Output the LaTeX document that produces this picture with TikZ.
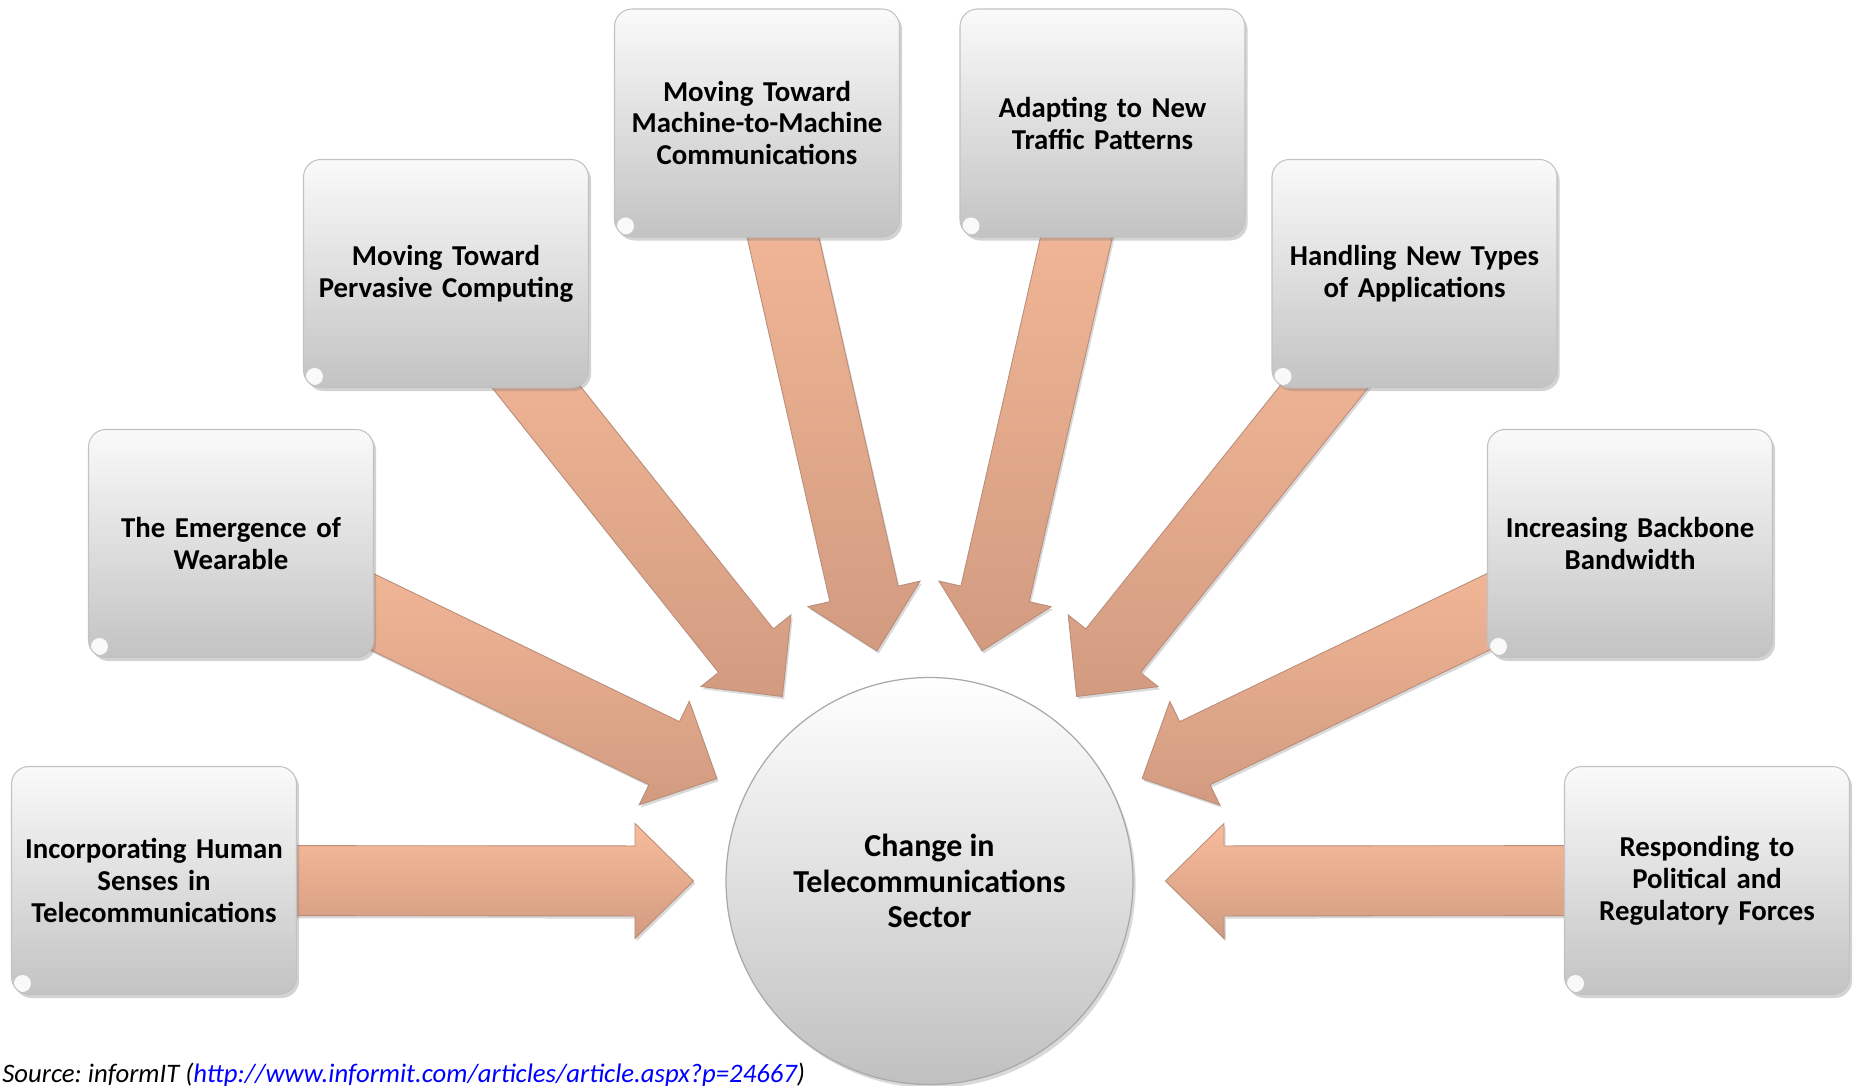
\documentclass[tikz,border=0pt]{standalone}
\usepackage{fontspec}
\setmainfont{Carlito}
\usetikzlibrary{positioning, calc, shadows, backgrounds}
\frenchspacing
\definecolor{boxtop}{HTML}{FAFAFA}
\definecolor{boxbot}{HTML}{C3C3C3}
\definecolor{boxline}{HTML}{C2C2C2}
\definecolor{hubbot}{HTML}{C0C0C0}
\definecolor{hubline}{HTML}{A9A9A9}
\definecolor{arrtop}{HTML}{F8BC9B}
\definecolor{arrbot}{HTML}{D29B80}
\definecolor{arrline}{HTML}{B88D7A}
\definecolor{urlblue}{HTML}{0000FF}

\begin{document}
\begin{tikzpicture}[
    topic/.style={draw=boxline, line width=0.6pt, rounded corners=10pt,
                  top color=boxtop, bottom color=boxbot,
                  minimum width=5.7cm, minimum height=4.56cm, text width=5.3cm, align=center,
                  font=\fontsize{16.4}{18.2}\selectfont\bfseries,
                  drop shadow={opacity=0.35, shadow xshift=1.5pt, shadow yshift=-2pt},
                  path picture={\fill[white, opacity=0.9]
                      ([shift={(0.22,0.22)}]path picture bounding box.south west) circle (0.17);}},
    hub/.style={circle, draw=hubline, line width=0.7pt, top color=white, bottom color=hubbot,
                minimum size=8.14cm, align=center,
                font=\fontsize{18.2}{20}\selectfont\bfseries,
                drop shadow={opacity=0.3, shadow xshift=1.5pt, shadow yshift=-2pt}},
    fatarrow/.style={draw=arrline, line width=0.5pt, top color=arrtop, bottom color=arrbot,
                     drop shadow={opacity=0.3, shadow xshift=1pt, shadow yshift=-1.5pt}},
]
\useasboundingbox (0,0) rectangle (37.12,21.7);

% centre
\node[hub] (hub) at (18.59,4.08) {Change in\\Telecommunications\\Sector};

% the eight drivers, left to right
\node[topic] (inc)   at (3.08,4.09)   {Incorporating Human\\Senses in\\Telecommunications};
\node[topic] (wear)  at (4.62,10.83)  {The Emergence of\\Wearable};
\node[topic] (perv)  at (8.92,16.23)  {Moving Toward\\Pervasive Computing};
\node[topic] (m2m)   at (15.14,19.24) {Moving Toward\\Machine-to-Machine\\Communications};
\node[topic] (traf)  at (22.05,19.24) {Adapting to New\\Traffic Patterns};
\node[topic] (apps)  at (28.29,16.23) {Handling New Types\\of Applications};
\node[topic] (bbone) at (32.60,10.83) {Increasing Backbone\\Bandwidth};
\node[topic] (reg)   at (34.14,4.09)  {Responding to\\Political and\\Regulatory Forces};

% arrow tips sit on a ring round the hub
\foreach \i in {1,...,8}
  \coordinate (tip\i) at ($(hub.center)+({180-(\i-1)*180/7}:4.72)$);

% block arrows, behind the boxes
\begin{scope}[on background layer]
\foreach \from [count=\i] in {inc, wear, perv, m2m, traf, apps, bbone, reg} {
  \coordinate (hb) at ($(tip\i)!1.17cm!(\from.center)$);
  \draw[fatarrow] (tip\i)
      -- ($(hb)!1.15cm!90:(tip\i)$) -- ($(hb)!0.70cm!90:(tip\i)$)
      -- ($(\from.center)!0.70cm!90:(tip\i)$) -- ($(\from.center)!0.70cm!-90:(tip\i)$)
      -- ($(hb)!0.70cm!-90:(tip\i)$) -- ($(hb)!1.15cm!-90:(tip\i)$) -- cycle;
}
\end{scope}

% source line
\node[anchor=base west, inner sep=0pt, font=\fontsize{15.2}{18}\selectfont\itshape] (credit)
    at (0.04,0.06) {Source: informIT (\textcolor{urlblue}{\underline{http://www.informit.com/articles/article.aspx?p=24667}})};

\end{tikzpicture}
\end{document}
